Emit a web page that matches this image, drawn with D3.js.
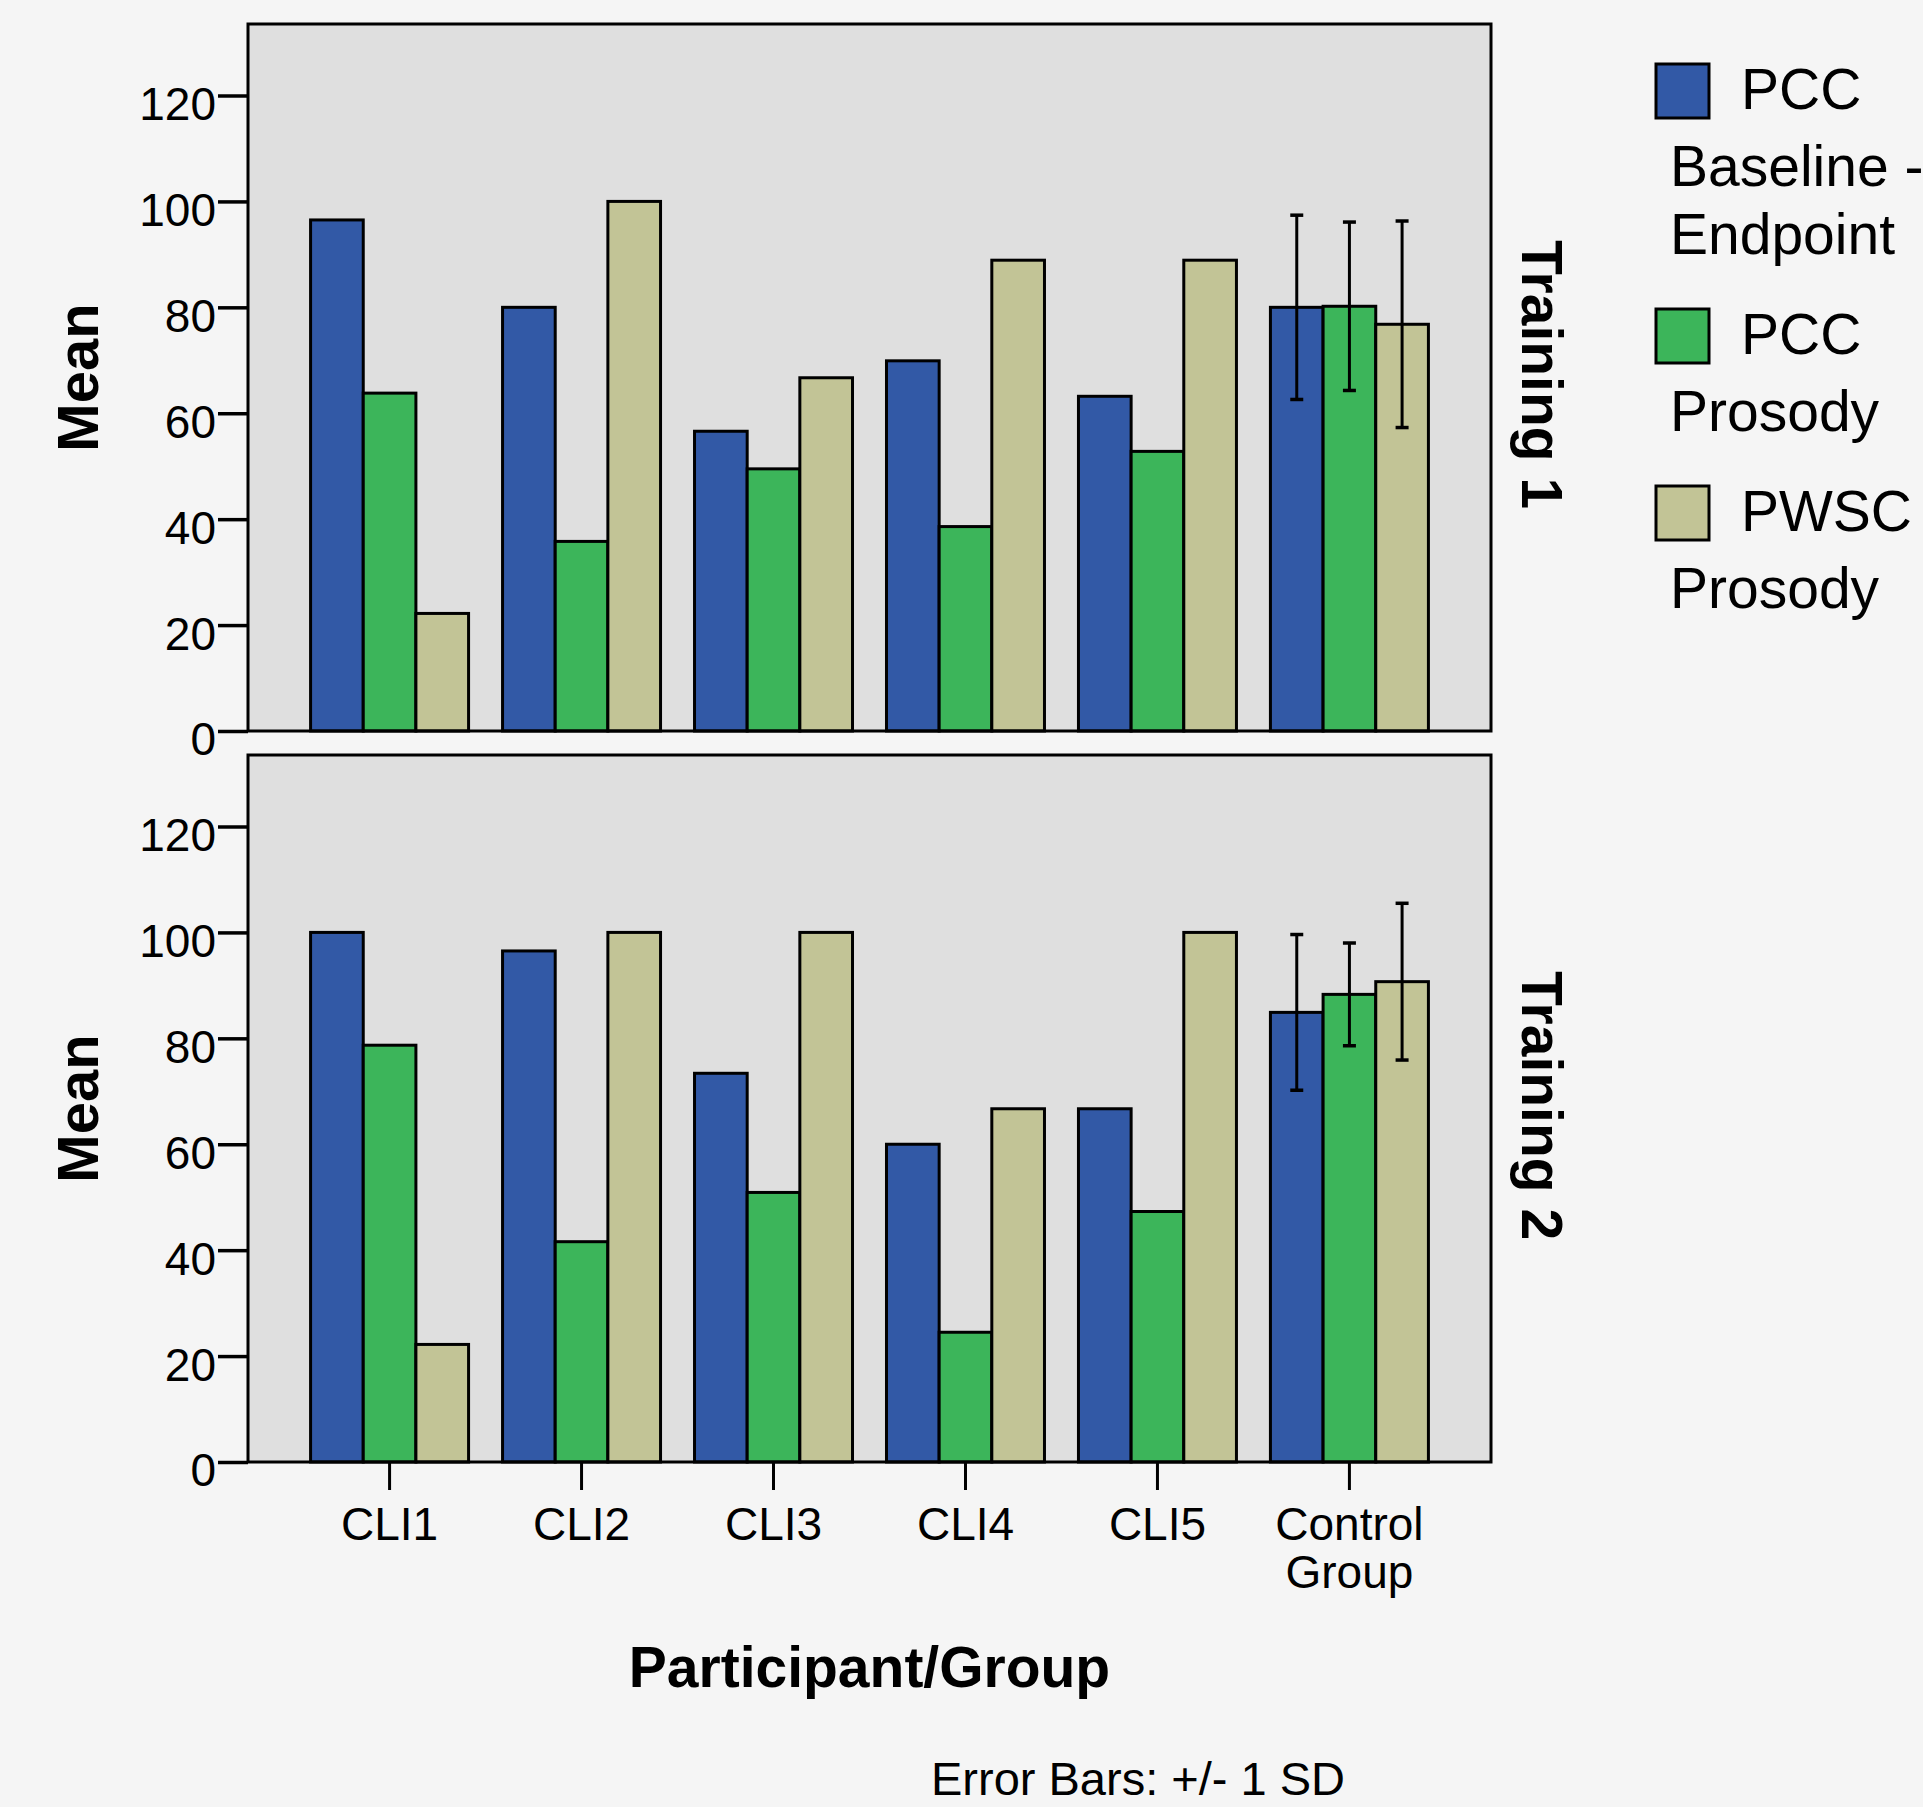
<!DOCTYPE html>
<html>
<head>
<meta charset="utf-8">
<script src="https://cdn.jsdelivr.net/npm/d3@7"></script>
<style>
  body { margin: 0; background: #f5f5f5; }
  text { font-family: "Liberation Sans", Arial, sans-serif; fill: #000; }
</style>
</head>
<body>
<div id="chart"></div>
<script>
// Categories and series
const categories = ["CLI1", "CLI2", "CLI3", "CLI4", "CLI5", "Control Group"];
const series = ["PCC Baseline - Endpoint", "PCC Prosody", "PWSC Prosody"];
const colors = ["#3259a6", "#3cb55a", "#c2c496"];
const panels = ["Training 1", "Training 2"];
const yTicks = [0, 20, 40, 60, 80, 100, 120];

// Training 1 means
const t1PccBaseline = [96.5, 80.0, 56.6, 69.9, 63.2, 80.0];
const t1PccProsody  = [63.8, 35.8, 49.5, 38.6, 52.8, 80.2];
const t1PwscProsody = [22.2, 100, 66.7, 88.9, 88.9, 76.8];
// Training 2 means
const t2PccBaseline = [100, 96.5, 73.4, 60.0, 66.7, 84.9];
const t2PccProsody  = [78.7, 41.6, 50.9, 24.5, 47.3, 88.3];
const t2PwscProsody = [22.2, 100, 100, 66.7, 100, 90.7];
// SD of the control group (per series)
const t1ControlSD = [17.4, 15.9, 19.5];
const t2ControlSD = [14.7, 9.7, 14.8];

// Legend labels (wrapped like the original)
const legendLines = [["PCC", "Baseline -", "Endpoint"], ["PCC", "Prosody"], ["PWSC", "Prosody"]];

// Dimensions
let width = 1923,
    height = 1807;
let left = 248, right = 1491;
let panelTop = [24, 755], panelH = 707;
let yMax = 133.5;

let svg = d3.select("#chart")
    .append("svg")
        .attr("width", width)
        .attr("height", height)
        .style("background", "#f5f5f5");

let x0 = d3.scaleBand()
    .domain(categories)
    .range([left, right])
    .paddingInner(0.177)
    .paddingOuter(0.326);

let x1 = d3.scaleBand()
    .domain(series)
    .range([0, x0.bandwidth()]);

let panelData = [
    { means: [t1PccBaseline, t1PccProsody, t1PwscProsody], sd: t1ControlSD },
    { means: [t2PccBaseline, t2PccProsody, t2PwscProsody], sd: t2ControlSD }
];

panelData.forEach((pd, p) => {
    let top = panelTop[p];
    let y = d3.scaleLinear().domain([0, yMax]).range([top + panelH, top]);
    let g = svg.append("g");

    // background
    g.append("rect")
        .attr("x", left).attr("y", top)
        .attr("width", right - left).attr("height", panelH)
        .attr("fill", "#dfdfdf");

    // bars
    let rows = [];
    categories.forEach((c, i) => {
        series.forEach((s, j) => {
            rows.push({ cat: c, ser: s, j: j, value: pd.means[j][i],
                        sd: c === "Control Group" ? pd.sd[j] : null });
        });
    });

    g.selectAll("rect.bar")
        .data(rows)
        .join("rect")
            .attr("class", "bar")
            .attr("x", d => x0(d.cat) + x1(d.ser))
            .attr("y", d => y(d.value))
            .attr("width", x1.bandwidth())
            .attr("height", d => y(0) - y(d.value))
            .attr("fill", d => colors[d.j])
            .attr("stroke", "#000")
            .attr("stroke-width", 3);

    // error bars
    let eb = g.selectAll("g.err")
        .data(rows.filter(d => d.sd !== null))
        .join("g")
            .attr("class", "err")
            .attr("transform", d => `translate(${x0(d.cat) + x1(d.ser) + x1.bandwidth() / 2},0)`);
    eb.append("line")
        .attr("y1", d => y(d.value - d.sd)).attr("y2", d => y(d.value + d.sd))
        .attr("stroke", "#000").attr("stroke-width", 3);
    eb.selectAll("line.cap")
        .data(d => [d.value - d.sd, d.value + d.sd])
        .join("line")
            .attr("class", "cap")
            .attr("x1", -6.5).attr("x2", 6.5)
            .attr("y1", v => y(v)).attr("y2", v => y(v))
            .attr("stroke", "#000").attr("stroke-width", 3.5);

    // frame
    g.append("rect")
        .attr("x", left).attr("y", top)
        .attr("width", right - left).attr("height", panelH)
        .attr("fill", "none")
        .attr("stroke", "#000")
        .attr("stroke-width", 3);

    // y axis
    let ya = g.append("g")
        .attr("transform", `translate(${left},0)`)
        .call(d3.axisLeft(y).tickValues(yTicks).tickSize(30).tickPadding(2));
    ya.select(".domain").remove();
    ya.selectAll(".tick line").attr("stroke", "#000").attr("stroke-width", 3.5);
    ya.selectAll(".tick text")
        .attr("dy", "0.52em")
        .style("font-size", "46px")
        .style("font-family", "'Liberation Sans', Arial, sans-serif")
        .attr("fill", "#000");

    // y title
    svg.append("text")
        .attr("transform", `translate(98,${top + panelH / 2}) rotate(-90)`)
        .attr("text-anchor", "middle")
        .style("font-size", "58px")
        .style("font-weight", "bold")
        .text("Mean");

    // panel label
    svg.append("text")
        .attr("transform", `translate(1522,${top + panelH / 2 - 3}) rotate(90)`)
        .attr("text-anchor", "middle")
        .style("font-size", "57px")
        .style("font-weight", "bold")
        .text(panels[p]);
});

// x axis (bottom panel only)
let xBase = panelTop[1] + panelH;
let xa = svg.append("g")
    .attr("transform", `translate(0,${xBase})`)
    .call(d3.axisBottom(x0).tickSize(28));
xa.select(".domain").remove();
xa.selectAll(".tick line").attr("stroke", "#000").attr("stroke-width", 3);
xa.selectAll(".tick text").remove();
xa.selectAll(".tick")
    .append("text")
        .attr("text-anchor", "middle")
        .style("font-size", "46px")
        .selectAll("tspan")
        .data(d => d.split(" "))
        .join("tspan")
            .attr("x", 0)
            .attr("y", (d, i) => 78 + i * 48)
            .text(d => d);

// x title
svg.append("text")
    .attr("x", (left + right) / 2)
    .attr("y", 1687)
    .attr("text-anchor", "middle")
    .style("font-size", "57px")
    .style("font-weight", "bold")
    .text("Participant/Group");

svg.append("text")
    .attr("x", 931)
    .attr("y", 1795)
    .style("font-size", "47px")
    .text("Error Bars: +/- 1 SD");

// legend
let cur = 64;
legendLines.forEach((lines, k) => {
    svg.append("rect")
        .attr("x", 1656).attr("y", cur)
        .attr("width", 53).attr("height", 54)
        .attr("fill", colors[k])
        .attr("stroke", "#000")
        .attr("stroke-width", 3);
    let base = cur + 45;
    lines.forEach((t, i) => {
        if (i === 1) base += 77;
        else if (i > 1) base += 68;
        svg.append("text")
            .attr("x", i === 0 ? 1741 : 1670)
            .attr("y", base)
            .style("font-size", "57px")
            .text(t);
    });
    cur = base + 55;
});
</script>
</body>
</html>
